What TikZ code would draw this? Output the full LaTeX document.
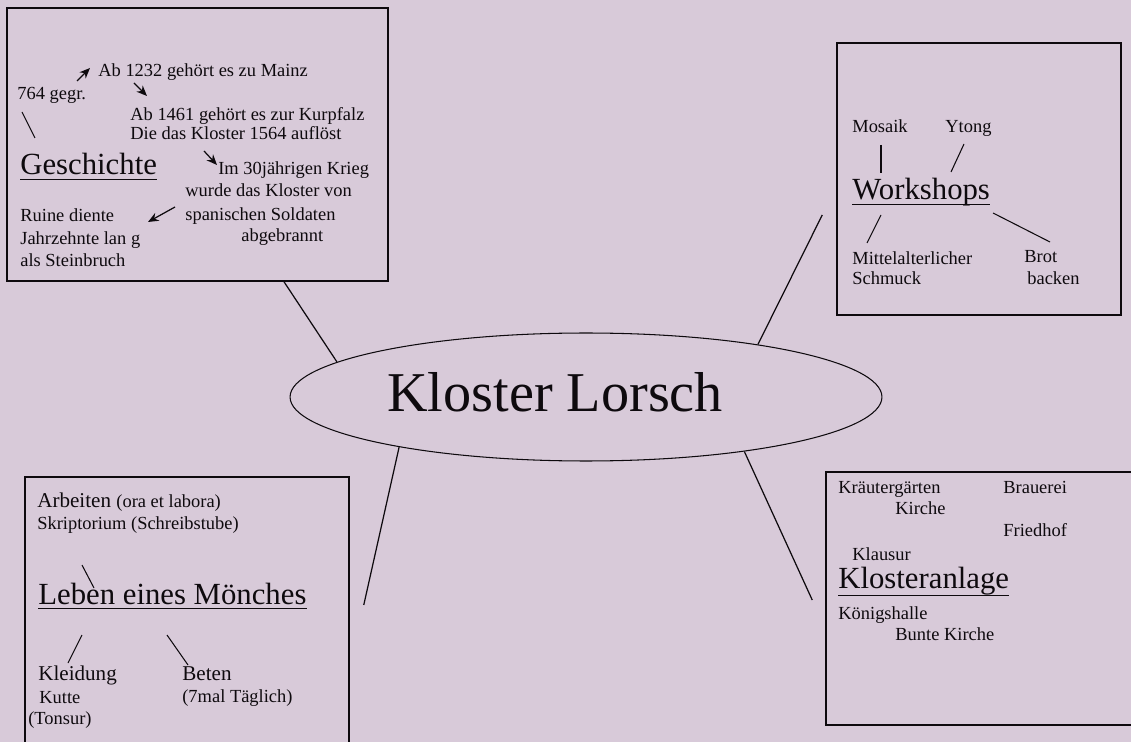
\documentclass[tikz,border=0pt]{standalone}
\usepackage{fontspec}
\setmainfont{Liberation Serif}
\usetikzlibrary{shapes, arrows.meta}
\definecolor{paper}{RGB}{216,202,217}
\definecolor{ink}{RGB}{14,10,14}

\begin{document}
\begin{tikzpicture}[x=0.02cm, y=-0.02cm, color=ink]
    \tikzstyle{small} = [anchor=base west, inner sep=0, font=\fontsize{10.5}{12}\selectfont];
    \tikzstyle{medium} = [anchor=base west, inner sep=0, font=\fontsize{12}{14}\selectfont];
    \tikzstyle{heading} = [anchor=base west, inner sep=0, font=\fontsize{17.5}{20}\selectfont];
    \tikzstyle{box} = [draw, rectangle, line width=0.9pt, inner sep=0];
    \tikzstyle{link} = [line width=0.7pt];
    \tikzstyle{stroke} = [line width=0.6pt];
    \tikzstyle{pointer} = [line width=0.7pt, -{Stealth[length=6pt, width=5pt]}];

    \fill[paper] (0, 0) rectangle (1131, 742);
    \useasboundingbox (0, 0) rectangle (1131, 742);
    \clip (0, 0) rectangle (1131, 742);

    \node[draw, ellipse, line width=0.6pt, minimum width=11.84cm, minimum height=2.56cm] at (586, 397) (hub) {};
    \node[anchor=base west, inner sep=0, font=\fontsize{32}{36}\selectfont] at (387, 412) (title) {Kloster Lorsch};

    \node[box, minimum width=7.62cm, minimum height=5.46cm] at (197.5, 144.5) (histbox) {};
    \node[box, minimum width=5.68cm, minimum height=5.44cm] at (979, 179) (workbox) {};
    \node[box, minimum width=6.48cm, minimum height=5.66cm] at (187, 618.5) (monkbox) {};
    \node[box, minimum width=6.28cm, minimum height=5.06cm] at (983, 598.5) (sitebox) {};

    \draw[link] (histbox.south) ++(86.5, 0) -- (hub.172.6);
    \draw[link] (workbox.west) ++(-14, 36) -- (hub.17);
    \draw[link] (monkbox.east) ++(14, -13.5) -- (hub.195.6);
    \draw[link] (sitebox.west) ++(-13, 1.5) -- (hub.341.7);

    \node[small] at (98, 77) (mainz) {Ab 1232 gehört es zu Mainz};
    \node[small] at (17, 100) (gegr) {764 gegr.};
    \node[small] at (130, 121) (kurpfalz) {Ab 1461 gehört es zur Kurpfalz};
    \node[small] at (130, 140) (aufloest) {Die das Kloster 1564 auflöst};
    \node[heading] at (20, 175) (geschichte) {Geschichte};
    \node[small] at (218, 175) (krieg) {Im 30jährigen Krieg};
    \node[small] at (185, 197) (wurde) {wurde das Kloster von};
    \node[small] at (185, 221) (soldaten) {spanischen Soldaten};
    \node[small] at (241, 242) (abgebrannt) {abgebrannt};
    \node[small] at (20, 222) (ruine) {Ruine diente};
    \node[small] at (20, 245) (jahrzehnte) {Jahrzehnte lan g};
    \node[small] at (20, 267) (steinbruch) {als Steinbruch};

    \draw[pointer] (mainz.base west) ++(-21, 4) -- ++(13, -13);
    \draw[pointer] (mainz.base west) ++(36, 6) -- ++(13, 13);
    \draw[stroke] (gegr.base west) ++(5, 12) -- ++(13, 26);
    \draw[pointer] (krieg.base west) ++(-14, -24) -- ++(13, 14);
    \draw[pointer] (soldaten.base west) ++(-10, -14) -- ++(-27, 15);
    \draw[stroke] ([yshift=-2.8pt]geschichte.base west) -- ([yshift=-2.8pt]geschichte.base east);

    \node[small] at (852, 133) (mosaik) {Mosaik};
    \node[small] at (945, 133) (ytong) {Ytong};
    \node[heading] at (852, 200) (workshops) {Workshops};
    \node[small] at (852, 265) (mittelalter) {Mittelalterlicher};
    \node[small] at (852, 285) (schmuck) {Schmuck};
    \node[small] at (1024, 263) (brot) {Brot};
    \node[small] at (1027, 285) (backen) {backen};

    \draw[stroke] (mosaik.base west) ++(29, 12) -- ++(0, 28);
    \draw[stroke] (ytong.base west) ++(19, 11) -- ++(-13, 28);
    \draw[stroke] (workshops.base west) ++(29, 15) -- ++(-14, 28);
    \draw[stroke] (workshops.base west) ++(141, 13) -- ++(57, 29);
    \draw[stroke] ([yshift=-2.4pt]workshops.base west) -- ([yshift=-2.4pt]workshops.base east);

    \node[medium] at (37, 507) (arbeiten) {Arbeiten {\fontsize{10.5}{12}\selectfont (ora et labora)}};
    \node[small] at (37, 529) (skriptorium) {Skriptorium (Schreibstube)};
    \node[heading] at (38, 604) (leben) {Leben eines Mönches};
    \node[medium] at (38, 680) (kleidung) {Kleidung};
    \node[small] at (39, 703) (kutte) {Kutte};
    \node[small] at (28, 724) (tonsur) {(Tonsur)};
    \node[medium] at (182, 680) (beten) {Beten};
    \node[small] at (182, 702) (taeglich) {(7mal Täglich)};

    \draw[stroke] (leben.base west) ++(44, -39) -- ++(12, 23);
    \draw[stroke] (leben.base west) ++(44, 31) -- ++(-14, 28);
    \draw[stroke] (leben.base west) ++(129, 31) -- ++(21, 30);
    \draw[stroke] ([yshift=-2.4pt]leben.base west) -- ([yshift=-2.4pt]leben.base east);

    \node[small] at (838, 493) (kraeuter) {Kräutergärten};
    \node[small] at (1003, 493) (brauerei) {Brauerei};
    \node[small] at (895, 514) (kirche) {Kirche};
    \node[small] at (1003, 536) (friedhof) {Friedhof};
    \node[small] at (852, 560) (klausur) {Klausur};
    \node[heading] at (838, 588) (anlage) {Klosteranlage};
    \node[small] at (838, 619) (koenigshalle) {Königshalle};
    \node[small] at (895, 640) (bunte) {Bunte Kirche};

    \draw[stroke] ([yshift=-4pt]anlage.base west) -- ([yshift=-4pt]anlage.base east);
\end{tikzpicture}
\end{document}
